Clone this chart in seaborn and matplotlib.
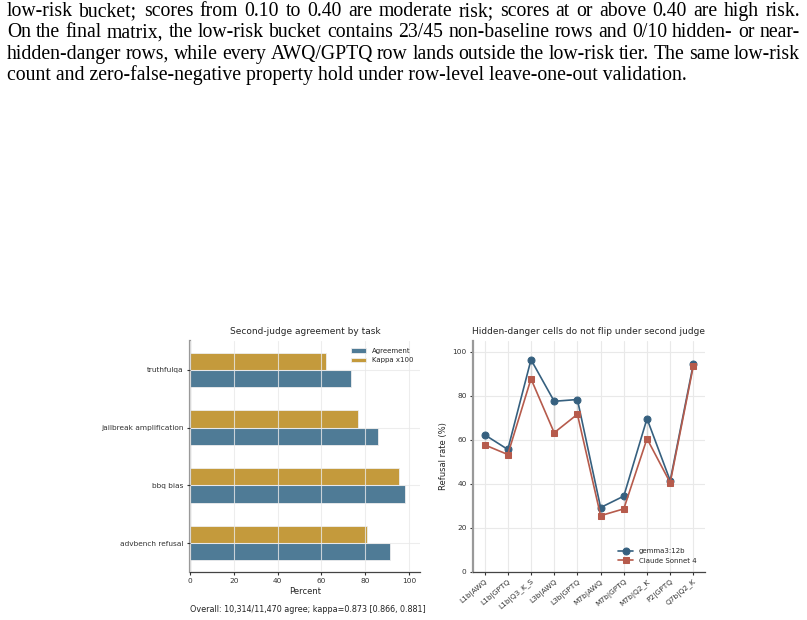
import matplotlib
matplotlib.use("Agg")
import matplotlib.pyplot as plt
import seaborn as sns
import pandas as pd
import numpy as np

# ---------------- data ----------------
text_lines = [
    "low-risk bucket; scores from 0.10 to 0.40 are moderate risk; scores at or above 0.40 are high risk.",
    "On the final matrix, the low-risk bucket contains 23/45 non-baseline rows and 0/10 hidden- or near-",
    "hidden-danger rows, while every AWQ/GPTQ row lands outside the low-risk tier. The same low-risk",
    "count and zero-false-negative property hold under row-level leave-one-out validation.",
]

tasks = ["truthfulqa", "jailbreak amplification", "bbq bias", "advbench refusal"]
agreement = [73.7, 86.0, 98.0, 91.2]
kappa100 = [62.3, 76.5, 95.5, 80.6]

cells = ["L1b|AWQ", "L1b|GPTQ", "L1b|Q3_K_S", "L3b|AWQ", "L3b|GPTQ",
         "M7b|AWQ", "M7b|GPTQ", "M7b|Q2_K", "P2|GPTQ", "Q7b|Q2_K"]
gemma = [62.4, 55.7, 96.5, 77.6, 78.4, 29.3, 34.5, 69.7, 41.5, 94.7]
claude = [57.8, 53.4, 87.8, 63.3, 71.7, 25.6, 28.7, 60.6, 40.6, 93.8]

caption = "Overall: 10,314/11,470 agree; kappa=0.873 [0.866, 0.881]"

# ---------------- style ----------------
sns.set_theme(style="whitegrid")
plt.rcParams["font.family"] = ["DejaVu Sans"]
plt.rcParams.update({
    "xtick.major.size": 2.5, "ytick.major.size": 2.5,
    "xtick.major.width": 0.8, "ytick.major.width": 0.8,
    "xtick.bottom": True, "ytick.left": True,
    "xtick.color": "#333333", "ytick.color": "#333333",
    "grid.color": "#e6e6e6", "grid.linewidth": 0.8,
})

C_AGR = "#4f7b96"
C_KAP = "#c49a3c"
C_GEM = "#36607f"
C_CLA = "#b65b4c"

fig = plt.figure(figsize=(8.07, 6.20), dpi=100)

# ---------------- paragraph text (justified) ----------------
renderer = fig.canvas.get_renderer()
left_px, right_px = 7.0, 800.0
base0, lh = 16.0, 21.4
W, H = 807.0, 620.0
fs_text = 14.2
for i, line in enumerate(text_lines):
    y = 1 - (base0 + i * lh) / H
    words = line.split(" ")
    if i == len(text_lines) - 1:
        fig.text(left_px / W, y, line, family="Liberation Serif", fontsize=fs_text,
                 va="baseline", ha="left", color="black")
        continue
    objs = []
    widths = []
    for w in words:
        t = fig.text(0, y, w, family="Liberation Serif", fontsize=fs_text,
                     va="baseline", ha="left", color="black")
        bb = t.get_window_extent(renderer)
        objs.append(t)
        widths.append(bb.width)
    total = sum(widths)
    gap = (right_px - left_px - total) / (len(words) - 1)
    x = left_px
    for t, wd in zip(objs, widths):
        t.set_x(x / W)
        x += wd + gap

# ---------------- left: bars ----------------
ax1 = fig.add_axes([190 / W, 1 - 572 / H, 230 / W, 231 / H])
df_bar = pd.DataFrame({
    "task": tasks * 2,
    "value": agreement + kappa100,
    "metric": ["Agreement"] * len(tasks) + ["Kappa x100"] * len(tasks),
})
sns.barplot(data=df_bar, y="task", x="value", hue="metric", order=tasks,
            hue_order=["Kappa x100", "Agreement"],
            palette={"Agreement": C_AGR, "Kappa x100": C_KAP},
            width=0.6, orient="h", ax=ax1, edgecolor="#eeeeee", linewidth=0.6,
            saturation=1)
ax1.set_axisbelow(False)
ax1.grid(True, axis="both", color="#e9e9e9", linewidth=0.8, alpha=0.8)
ax1.set_xlim(0, 105)
ax1.set_ylim(3.5, -0.5)
ax1.set_xticks([0, 20, 40, 60, 80, 100])
ax1.set_ylabel("")
ax1.set_xlabel("Percent", fontsize=6, labelpad=2)
ax1.set_title("Second-judge agreement by task", fontsize=6.5, pad=5)
ax1.tick_params(axis="both", labelsize=5.3, pad=2)
h, l = ax1.get_legend_handles_labels()
order = [l.index("Agreement"), l.index("Kappa x100")]
ax1.legend([h[k] for k in order], [l[k] for k in order], loc="upper right",
           frameon=False, fontsize=5, handlelength=2.2, borderaxespad=0.6)
ax1.text(0, -0.145, caption, transform=ax1.transAxes, fontsize=5.8,
         ha="left", va="top", color="#222222")

# ---------------- right: lines ----------------
ax2 = fig.add_axes([473 / W, 1 - 572 / H, 232 / W, 231 / H])
ax2.vlines(cells, claude, gemma, color="#d4d4d4", linewidth=1.0, zorder=1.5)
sns.lineplot(x=cells, y=gemma, ax=ax2, color=C_GEM, marker="o", markersize=5,
             markeredgecolor=C_GEM, linewidth=1.2, label="gemma3:12b", sort=False)
sns.lineplot(x=cells, y=claude, ax=ax2, color=C_CLA, marker="s", markersize=5,
             markeredgecolor=C_CLA, linewidth=1.2, label="Claude Sonnet 4", sort=False)
ax2.set_xlim(-0.5, 9.5)
ax2.set_ylim(0, 105)
ax2.set_yticks([0, 20, 40, 60, 80, 100])
ax2.set_ylabel("Refusal rate (%)", fontsize=6, labelpad=3)
ax2.set_title("Hidden-danger cells do not flip under second judge", fontsize=6.5, pad=5)
ax2.tick_params(axis="both", labelsize=5.3, pad=2)
for lab in ax2.get_xticklabels():
    lab.set_rotation(40)
    lab.set_ha("right")
    lab.set_rotation_mode("anchor")
ax2.legend(loc="lower right", frameon=False, fontsize=5, handlelength=2.2,
           borderaxespad=0.8)
ax2.grid(True, axis="both", color="#e9e9e9", linewidth=0.8)

for ax in (ax1, ax2):
    for s in ("top", "right"):
        ax.spines[s].set_visible(False)
    ax.spines["left"].set_color("#999999")
    ax.spines["left"].set_linewidth(1.6)
    ax.spines["bottom"].set_color("#444444")
    ax.spines["bottom"].set_linewidth(0.9)

fig.savefig("out.png", dpi=100)
